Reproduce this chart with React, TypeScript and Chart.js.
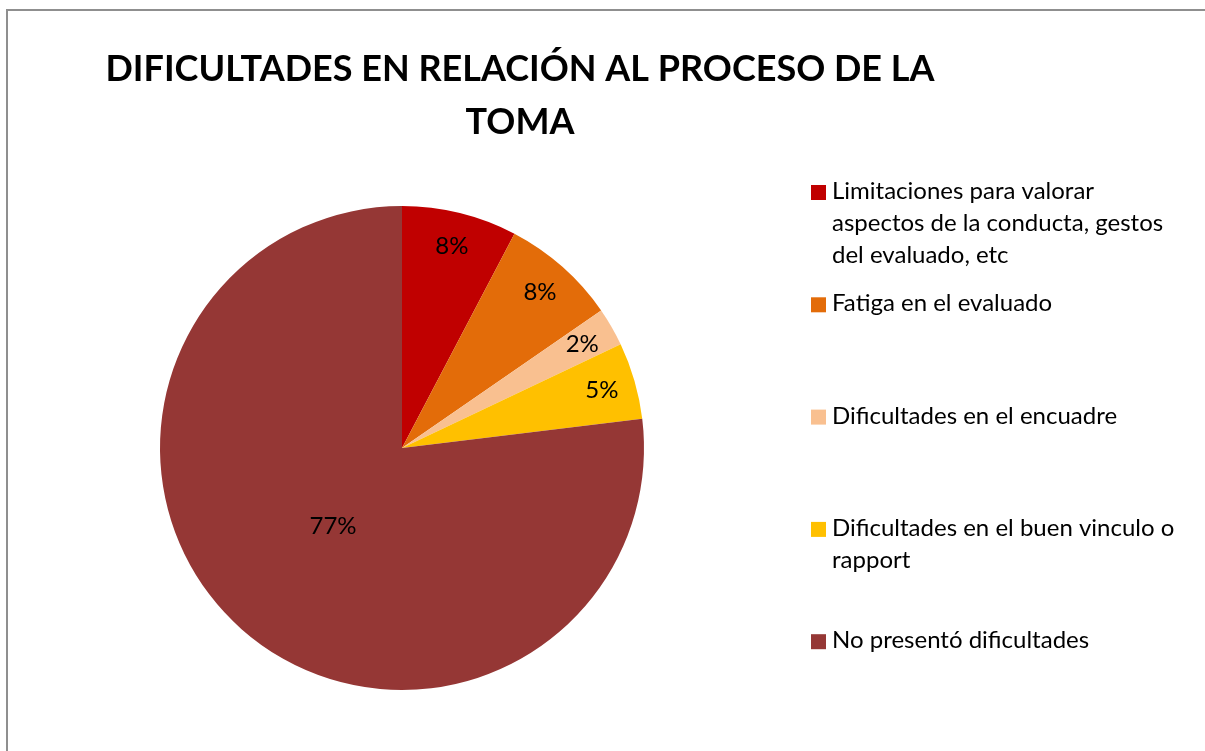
import React, { useEffect, useRef } from "react";
import { Chart, registerables } from "chart.js";

Chart.register(...registerables);

const titleLines = ["DIFICULTADES EN RELACIÓN AL PROCESO DE LA", "TOMA"];
const categories = [
  ["Limitaciones para valorar", "aspectos de la conducta, gestos", "del evaluado, etc"],
  ["Fatiga en el evaluado"],
  ["Dificultades en el encuadre"],
  ["Dificultades en el buen vinculo o", "rapport"],
  ["No presentó dificultades"],
];
const counts = [3, 3, 1, 2, 30];
const percentLabels = ["8%", "8%", "2%", "5%", "77%"];
const colors = ["#C00000", "#E36C09", "#F9C090", "#FFC000", "#953735"];

const FONT = "Lato, 'Open Sans', sans-serif";

const decorPlugin = {
  id: "decor",
  afterDraw(chart: any) {
    const ctx = chart.ctx as CanvasRenderingContext2D;
    ctx.save();
    // frame
    ctx.strokeStyle = "#8f8f8f";
    ctx.lineWidth = 2;
    ctx.beginPath();
    ctx.moveTo(7, 800);
    ctx.lineTo(7, 10);
    ctx.lineTo(1300, 10);
    ctx.stroke();

    // title
    ctx.fillStyle = "#000";
    ctx.textAlign = "center";
    ctx.textBaseline = "alphabetic";
    ctx.font = `bold 36px ${FONT}`;
    titleLines.forEach((t, i) => ctx.fillText(t, 520, 81 + i * 53));

    // data labels
    const meta = chart.getDatasetMeta(0);
    const total = counts.reduce((a, b) => a + b, 0);
    ctx.font = `24px ${FONT}`;
    ctx.textBaseline = "middle";
    meta.data.forEach((arc: any, i: number) => {
      const p = arc.getProps(["x", "y", "startAngle", "endAngle", "outerRadius"], true);
      const mid = (p.startAngle + p.endAngle) / 2;
      const f = counts[i] / total > 0.5 ? 0.43 : 0.86;
      const r = p.outerRadius * f;
      ctx.fillText(percentLabels[i], p.x + Math.cos(mid) * r, p.y + Math.sin(mid) * r);
    });

    // legend
    ctx.textAlign = "left";
    ctx.textBaseline = "alphabetic";
    ctx.font = `24px ${FONT}`;
    const step = 112.3;
    categories.forEach((lines, i) => {
      const base = 199 + i * step;
      ctx.fillStyle = colors[i];
      ctx.fillRect(811, base - 14, 15, 15);
      ctx.fillStyle = "#000";
      lines.forEach((ln, j) => ctx.fillText(ln, 832, base + j * 32));
    });
    ctx.restore();
  },
};

export default function App() {
  const ref = useRef<HTMLCanvasElement>(null);
  useEffect(() => {
    if (!ref.current) return;
    const chart = new Chart(ref.current, {
      type: "pie",
      data: {
        labels: categories,
        datasets: [
          {
            data: counts,
            backgroundColor: colors,
            borderWidth: 0,
          },
        ],
      },
      options: {
        responsive: false,
        animation: false,
        layout: { padding: { left: 160, top: 206, right: 561, bottom: 61 } },
        plugins: {
          legend: { display: false },
          title: { display: false },
          tooltip: { enabled: false },
        },
      },
      plugins: [decorPlugin],
    });
    return () => chart.destroy();
  }, []);
  return (
    <div style={{ position: "absolute", left: 0, top: 0, width: 1205, height: 751, background: "#fff" }}>
      <canvas ref={ref} width={1205} height={751} style={{ width: 1205, height: 751, display: "block" }} />
    </div>
  );
}
